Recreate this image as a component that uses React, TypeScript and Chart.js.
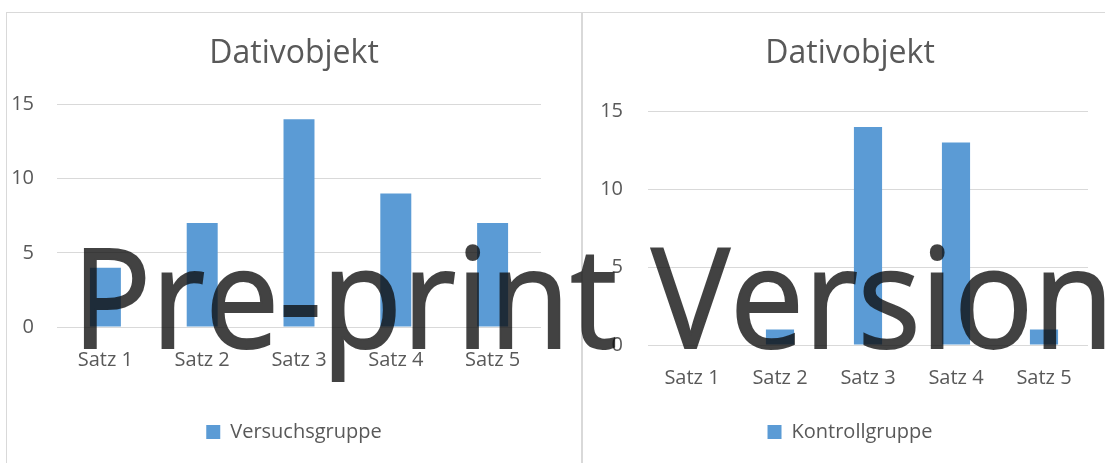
import React, { useEffect, useRef } from "react";
import { Chart, registerables } from "chart.js";

Chart.register(...registerables);

const categories = ["Satz 1", "Satz 2", "Satz 3", "Satz 4", "Satz 5"];
const versuchsgruppe = [4, 7, 14, 9, 7];
const kontrollgruppe = [0, 1, 14, 13, 1];
const yTicks = [0, 5, 10, 15];
const chartTitle = "Dativobjekt";
const leftLegend = "Versuchsgruppe";
const rightLegend = "Kontrollgruppe";
const watermarkText = "Pre-print Version";

const FONT = "'Open Sans', 'Noto Sans', sans-serif";
const GRAY = "#595959";
const GRID = "#d9d9d9";
const BLUE = "#5b9bd5";

type PanelLayout = {
  padLeft: number;
  padRight: number;
  padBottom: number;
  yAxisWidth: number;
  xAxisHeight: number;
  tickPadY: number;
  tickPadX: number;
  titleTop: number;
  titleBottom: number;
  barPct: number;
};

const leftLayout: PanelLayout = {
  padLeft: 40,
  padRight: 40,
  padBottom: 11,
  yAxisWidth: 10,
  xAxisHeight: 85,
  tickPadY: 23,
  tickPadX: 13,
  titleTop: 22,
  titleBottom: 31,
  barPct: 0.32,
};

const rightLayout: PanelLayout = {
  padLeft: 29,
  padRight: 17,
  padBottom: 11,
  yAxisWidth: 36,
  xAxisHeight: 67,
  tickPadY: 25,
  tickPadX: 13,
  titleTop: 22,
  titleBottom: 38,
  barPct: 0.32,
};

function BarPanel(props: {
  label: string;
  values: number[];
  layout: PanelLayout;
  width: number;
  height: number;
}) {
  const ref = useRef<HTMLCanvasElement | null>(null);
  const { label, values, layout, width, height } = props;
  useEffect(() => {
    if (!ref.current) return;
    const chart = new Chart(ref.current, {
      type: "bar",
      data: {
        labels: categories,
        datasets: [
          {
            label,
            data: values,
            backgroundColor: BLUE,
            borderWidth: 0,
            barPercentage: layout.barPct,
            categoryPercentage: 1,
          },
        ],
      },
      options: {
        animation: false,
        responsive: false,
        maintainAspectRatio: false,
        layout: {
          padding: {
            left: layout.padLeft,
            right: layout.padRight,
            top: 0,
            bottom: layout.padBottom,
          },
        },
        plugins: {
          title: {
            display: true,
            text: chartTitle,
            color: GRAY,
            font: { family: FONT, size: 32, weight: "normal" as any },
            padding: { top: layout.titleTop, bottom: layout.titleBottom },
          },
          legend: {
            position: "bottom",
            labels: {
              color: GRAY,
              font: { family: FONT, size: 20 },
              boxWidth: 14,
              boxHeight: 14,
              padding: 10,
            },
          },
          tooltip: { enabled: false },
        },
        scales: {
          x: {
            grid: { display: false },
            border: { display: false },
            ticks: {
              color: GRAY,
              font: { family: FONT, size: 20 },
              padding: layout.tickPadX,
              maxRotation: 0,
              autoSkip: false,
            },
            afterFit: (s: any) => {
              s.height = layout.xAxisHeight;
            },
          },
          y: {
            min: 0,
            max: 15,
            afterBuildTicks: (s: any) => {
              s.ticks = yTicks.map((v) => ({ value: v }));
            },
            grid: { color: GRID, lineWidth: 1, drawTicks: false },
            border: { display: false },
            ticks: {
              color: GRAY,
              font: { family: FONT, size: 20 },
              padding: layout.tickPadY,
            },
            afterFit: (s: any) => {
              s.width = layout.yAxisWidth;
              // let the tick labels extend past the narrow axis box
              s._computeLabelArea = () => undefined;
            },
          },
        },
      },
    });
    return () => chart.destroy();
  }, []);
  return (
    <canvas
      ref={ref}
      width={width}
      height={height}
      style={{ display: "block", width, height }}
    />
  );
}

function measureScale(text: string, font: string, target: number): number {
  try {
    const c = document.createElement("canvas");
    const ctx = c.getContext("2d");
    if (!ctx) return 1;
    ctx.font = font;
    const w = ctx.measureText(text).width;
    return w > 0 ? target / w : 1;
  } catch {
    return 1;
  }
}

export default function App() {
  const wmSize = 140;
  const scaleX = measureScale(watermarkText, `${wmSize}px 'Open Sans'`, 1042);
  return (
    <div
      style={{
        position: "fixed",
        left: 0,
        top: 0,
        width: 1105,
        height: 463,
        overflow: "hidden",
        background: "#ffffff",
      }}
    >
      <div
        style={{
          position: "absolute",
          left: 6,
          top: 12,
          width: 576,
          height: 470,
          border: "1px solid #d9d9d9",
          boxSizing: "border-box",
        }}
      >
        <div style={{ position: "absolute", left: 0, top: 0 }}>
          <BarPanel
            label={leftLegend}
            values={versuchsgruppe}
            layout={leftLayout}
            width={574}
            height={450}
          />
        </div>
      </div>
      <div
        style={{
          position: "absolute",
          left: 582,
          top: 12,
          width: 540,
          height: 470,
          border: "1px solid #d9d9d9",
          boxSizing: "border-box",
        }}
      >
        <div style={{ position: "absolute", left: 0, top: 0 }}>
          <BarPanel
            label={rightLegend}
            values={kontrollgruppe}
            layout={rightLayout}
            width={522}
            height={450}
          />
        </div>
      </div>
      <div
        style={{
          position: "absolute",
          left: 72,
          top: 224,
          fontFamily: FONT,
          fontSize: wmSize,
          lineHeight: "1",
          whiteSpace: "nowrap",
          color: "#0d0d0d",
          opacity: 0.78,
          WebkitTextStroke: "2px #0d0d0d",
          filter: "blur(0.5px)",
          transform: `scaleX(${scaleX})`,
          transformOrigin: "left top",
          pointerEvents: "none",
        }}
      >
        {watermarkText}
      </div>
    </div>
  );
}
